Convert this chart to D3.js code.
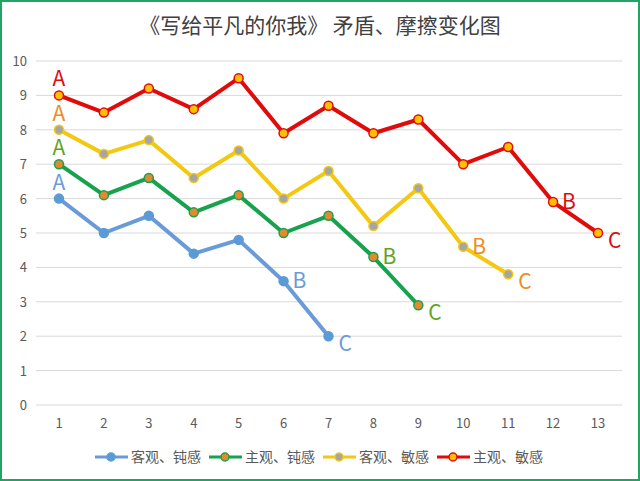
<!DOCTYPE html>
<html><head><meta charset="utf-8">
<script src="https://cdn.jsdelivr.net/npm/d3@7"></script>
<style>body{margin:0;background:#fff}text{font-family:"Noto Sans CJK SC","Noto Sans",sans-serif}</style>
</head><body><svg id="c"></svg>
<script>
const xs = d3.range(1, 14);
const yTicks = d3.range(0, 11);
const names = ["客观、钝感", "主观、钝感", "客观、敏感", "主观、敏感"];
const blue = [6, 5, 5.5, 4.4, 4.8, 3.6, 2];
const green = [7, 6.1, 6.6, 5.6, 6.1, 5, 5.5, 4.3, 2.9];
const yellow = [8, 7.3, 7.7, 6.6, 7.4, 6, 6.8, 5.2, 6.3, 4.6, 3.8];
const red = [9, 8.5, 9.2, 8.6, 9.5, 7.9, 8.7, 7.9, 8.3, 7, 7.5, 5.9, 5];

const series = [
  { name: names[0], values: blue, line: "#6a9bd8", fill: "#5b9bd5", stroke: "#5b9bd5", text: "#6a9bd8" },
  { name: names[1], values: green, line: "#17a24e", fill: "#e3892f", stroke: "#17a24e", text: "#5ea51c" },
  { name: names[2], values: yellow, line: "#f2c811", fill: "#a5a5a5", stroke: "#f2c811", text: "#f08a24" },
  { name: names[3], values: red, line: "#e00b0b", fill: "#ffc000", stroke: "#e00b0b", text: "#e00b0b" }
];

const width = 640, height = 481;
const svg = d3.select("#c").attr("width", width).attr("height", height);
svg.append("rect").attr("x", 1).attr("y", 1).attr("width", width - 2).attr("height", height - 2)
  .attr("fill", "#fff").attr("stroke", "#21a366").attr("stroke-width", 2);

svg.append("text").attr("x", 320).attr("y", 33).attr("text-anchor", "middle")
  .attr("font-size", 21).attr("fill", "#404040").text("《写给平凡的你我》 矛盾、摩擦变化图");

const x = d3.scaleLinear().domain([1, 13]).range([59, 598]);
const y = d3.scaleLinear().domain([0, 10]).range([405, 61]);

svg.append("g").selectAll("line").data(yTicks).join("line")
  .attr("x1", 36).attr("x2", 622).attr("y1", d => y(d)).attr("y2", d => y(d))
  .attr("stroke", "#d9d9d9").attr("stroke-width", 1);
svg.append("g").selectAll("text").data(yTicks).join("text")
  .attr("x", 27).attr("y", d => y(d) + 5).attr("text-anchor", "end")
  .attr("font-size", 13).attr("fill", "#595959").text(d => d);
svg.append("g").selectAll("text").data(xs).join("text")
  .attr("x", d => x(d)).attr("y", 428).attr("text-anchor", "middle")
  .attr("font-size", 13).attr("fill", "#595959").text(d => d);

const line = d3.line().x((d, i) => x(i + 1)).y(d => y(d));
series.forEach(s => {
  svg.append("path").attr("d", line(s.values)).attr("fill", "none")
    .attr("stroke", s.line).attr("stroke-width", 4).attr("stroke-linejoin", "round");
  svg.append("g").selectAll("circle").data(s.values).join("circle")
    .attr("cx", (d, i) => x(i + 1)).attr("cy", d => y(d)).attr("r", 4.5)
    .attr("fill", s.fill).attr("stroke", s.stroke).attr("stroke-width", 1.5);
  const n = s.values.length;
  const lab = (t, i, dx, dy, anchor) => svg.append("text")
    .attr("x", x(i + 1) + dx).attr("y", y(s.values[i]) + dy).attr("text-anchor", anchor)
    .attr("font-size", 21).attr("fill", s.text).text(t);
  lab("A", 0, 0, -9, "middle");
  lab("B", n - 2, 9, 7, "start");
  lab("C", n - 1, 10, 15, "start");
});

const leg = svg.append("g");
const lx = [95, 209, 323, 437];
series.forEach((s, i) => {
  const g = leg.append("g").attr("transform", `translate(${lx[i]},457)`);
  g.append("line").attr("x1", 0).attr("x2", 33).attr("stroke", s.line).attr("stroke-width", 3);
  g.append("circle").attr("cx", 16).attr("r", 4).attr("fill", s.fill).attr("stroke", s.stroke).attr("stroke-width", 1.5);
  g.append("text").attr("x", 36).attr("y", 5).attr("font-size", 14).attr("fill", "#595959").text(s.name);
});
</script></body></html>
